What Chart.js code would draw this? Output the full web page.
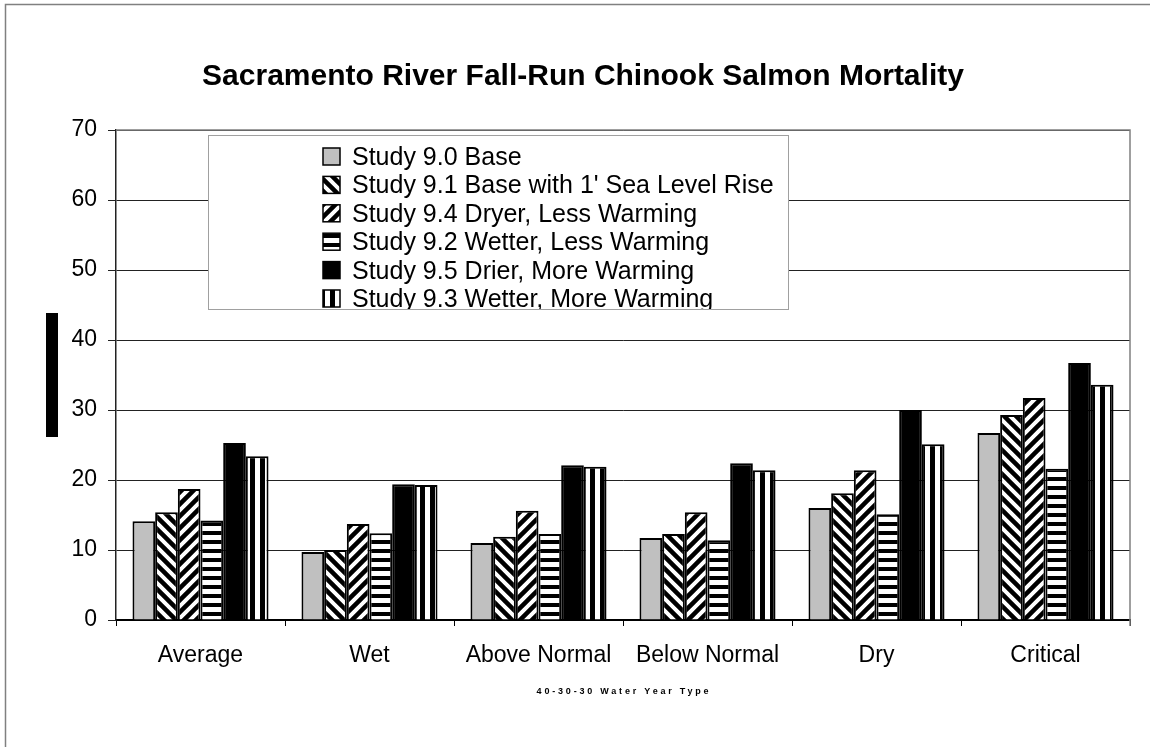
<!DOCTYPE html>
<html>
<head>
<meta charset="utf-8">
<title>Sacramento River Fall-Run Chinook Salmon Mortality</title>
<script src="https://cdn.jsdelivr.net/npm/chart.js@4.4.1/dist/chart.umd.min.js"></script>
<style>
    html, body { margin: 0; padding: 0; background: #fff; }
    #wrap { width: 1150px; height: 747px; position: relative; }
</style>
</head>
<body>
<div id="wrap"><canvas id="salmonChart"></canvas></div>
<script>
// Water year types (x axis)
const categories = ['Average', 'Wet', 'Above Normal', 'Below Normal', 'Dry', 'Critical'];

// Mortality values, one array per study
const study90 = [14.1, 9.7, 11.0, 11.7, 16.0, 26.7];
const study91 = [15.4, 10.0, 11.9, 12.3, 18.1, 29.3];
const study94 = [18.7, 13.7, 15.6, 15.4, 21.4, 31.7];
const study92 = [14.2, 12.4, 12.3, 11.4, 15.1, 21.6];
const study95 = [25.3, 19.4, 22.1, 22.4, 30.0, 36.7];
const study93 = [23.4, 19.3, 21.9, 21.4, 25.1, 33.6];

const seriesNames = [
    'Study 9.0 Base',
    "Study 9.1 Base with 1' Sea Level Rise",
    'Study 9.4 Dryer, Less Warming',
    'Study 9.2 Wetter, Less Warming',
    'Study 9.5 Drier, More Warming',
    'Study 9.3 Wetter, More Warming'
];

// y axis range
const yMin = 0;
const yMax = 70;
const yStep = 10;

const xTitle = '40-30-30 Water Year Type';
const FONT = "'Liberation Sans', Arial, sans-serif";

// Build the hatch fills
function makePattern(kind) {
    const c = document.createElement('canvas');
    const size = kind === 'horiz' ? 9 : (kind === 'vert' ? 10 : 12);
    c.width = size;
    c.height = size;
    const g = c.getContext('2d');
    g.fillStyle = '#fff';
    g.fillRect(0, 0, size, size);
    g.fillStyle = '#000';
    g.strokeStyle = '#000';
    if (kind === 'horiz') {
        g.fillRect(0, 0, size, 4);
    } else if (kind === 'vert') {
        g.fillRect(0, 0, 5, size);
    } else {
        g.lineWidth = 4.5;
        g.beginPath();
        if (kind === 'back') {
            // "\" stripes
            g.moveTo(-size, 0); g.lineTo(size, 2 * size);
            g.moveTo(0, 0); g.lineTo(size, size);
            g.moveTo(0, -size); g.lineTo(2 * size, size);
        } else {
            // "/" stripes
            g.moveTo(0, size); g.lineTo(size, 0);
            g.moveTo(-size, size); g.lineTo(size, -size);
            g.moveTo(0, 2 * size); g.lineTo(2 * size, 0);
        }
        g.stroke();
    }
    return g.createPattern(c, 'repeat');
}

const fills = [
    '#c0c0c0',
    makePattern('back'),
    makePattern('fwd'),
    makePattern('horiz'),
    '#000000',
    makePattern('vert')
];

const seriesValues = [study90, study91, study94, study92, study95, study93];

const datasets = seriesValues.map((vals, i) => ({
    label: seriesNames[i],
    data: vals,
    backgroundColor: fills[i],
    borderColor: '#000',
    borderWidth: 2,
    categoryPercentage: 0.805,
    barPercentage: 1.0
}));

// Extra drawing: frames, boxed legend, axis titles
const decorPlugin = {
    id: 'decor',
    beforeDraw(chart) {
        const ctx = chart.ctx;
        ctx.save();
        ctx.fillStyle = '#fff';
        ctx.fillRect(0, 0, chart.width, chart.height);
        // outer frame (runs off the right and bottom)
        ctx.strokeStyle = '#808080';
        ctx.lineWidth = 1.5;
        ctx.strokeRect(5.5, 4.5, chart.width + 20, chart.height + 20);
        ctx.restore();
    },
    afterDatasetsDraw(chart) {
        const ctx = chart.ctx;
        const area = chart.chartArea;
        ctx.save();

        // plot area frame, top and right
        ctx.strokeStyle = '#808080';
        ctx.lineWidth = 1.5;
        ctx.beginPath();
        ctx.moveTo(area.left, area.top);
        ctx.lineTo(area.right, area.top);
        ctx.lineTo(area.right, area.bottom + 6);
        ctx.stroke();

        // legend box
        const box = { x: area.left + 92, y: area.top + 5, w: 580, h: 174 };
        ctx.fillStyle = '#fff';
        ctx.fillRect(box.x, box.y, box.w, box.h);
        ctx.strokeStyle = '#a0a0a0';
        ctx.lineWidth = 1;
        ctx.strokeRect(box.x + 0.5, box.y + 0.5, box.w, box.h);

        ctx.beginPath();
        ctx.rect(box.x + 1, box.y + 1, box.w - 1, box.h - 1);
        ctx.clip();
        ctx.font = '25px ' + FONT;
        ctx.textBaseline = 'alphabetic';
        ctx.textAlign = 'left';
        chart.data.datasets.forEach((ds, i) => {
            const base = box.y + 30 + i * 28.4;
            const mx = box.x + 115;
            ctx.fillStyle = ds.backgroundColor;
            ctx.fillRect(mx, base - 17, 17, 17);
            ctx.strokeStyle = '#000';
            ctx.lineWidth = 1.5;
            ctx.strokeRect(mx, base - 17, 17, 17);
            ctx.fillStyle = '#000';
            ctx.fillText(ds.label, mx + 29, base);
        });
        ctx.restore();
    },
    afterDraw(chart) {
        const ctx = chart.ctx;
        const area = chart.chartArea;
        ctx.save();
        // y axis title is blacked out in the original
        const mid = (area.top + area.bottom) / 2;
        ctx.fillStyle = '#000';
        ctx.fillRect(46, mid - 62, 12, 124);

        // x axis title, small and letter-spaced
        ctx.font = 'bold 9px ' + FONT;
        ctx.letterSpacing = '2.8px';
        ctx.textAlign = 'center';
        ctx.textBaseline = 'middle';
        ctx.fillStyle = '#000';
        ctx.fillText(xTitle, (area.left + area.right) / 2 + 1, area.bottom + 72);
        ctx.restore();
    }
};

const ctx = document.getElementById('salmonChart').getContext('2d');
const salmonChart = new Chart(ctx, {
    type: 'bar',
    data: {
        labels: categories,
        datasets: datasets
    },
    options: {
        responsive: true,
        maintainAspectRatio: false,
        animation: false,
        devicePixelRatio: 1,
        layout: {
            padding: { left: 36, right: 20, top: 0, bottom: 0 }
        },
        plugins: {
            legend: { display: false },
            tooltip: { enabled: false },
            title: {
                display: true,
                text: 'Sacramento River Fall-Run Chinook Salmon Mortality',
                color: '#000',
                font: { family: FONT, size: 30, weight: 'bold' },
                padding: { top: 59, bottom: 35 }
            }
        },
        scales: {
            x: {
                afterFit(scale) { scale.height = 127; },
                grid: {
                    drawOnChartArea: false,
                    drawTicks: true,
                    tickLength: 6,
                    color: '#000',
                    offset: true
                },
                border: { display: true, color: '#000', width: 2 },
                ticks: {
                    color: '#000',
                    padding: 16,
                    maxRotation: 0,
                    font: { family: FONT, size: 23 }
                }
            },
            y: {
                min: yMin,
                max: yMax,
                afterFit(scale) { scale.width = 80; },
                grid: {
                    color: '#222',
                    lineWidth: 1,
                    tickLength: 8
                },
                border: { display: true, color: '#222', width: 1.5 },
                ticks: {
                    stepSize: yStep,
                    color: '#000',
                    padding: 11,
                    font: { family: FONT, size: 23 }
                }
            }
        }
    },
    plugins: [decorPlugin]
});
</script>
</body>
</html>
